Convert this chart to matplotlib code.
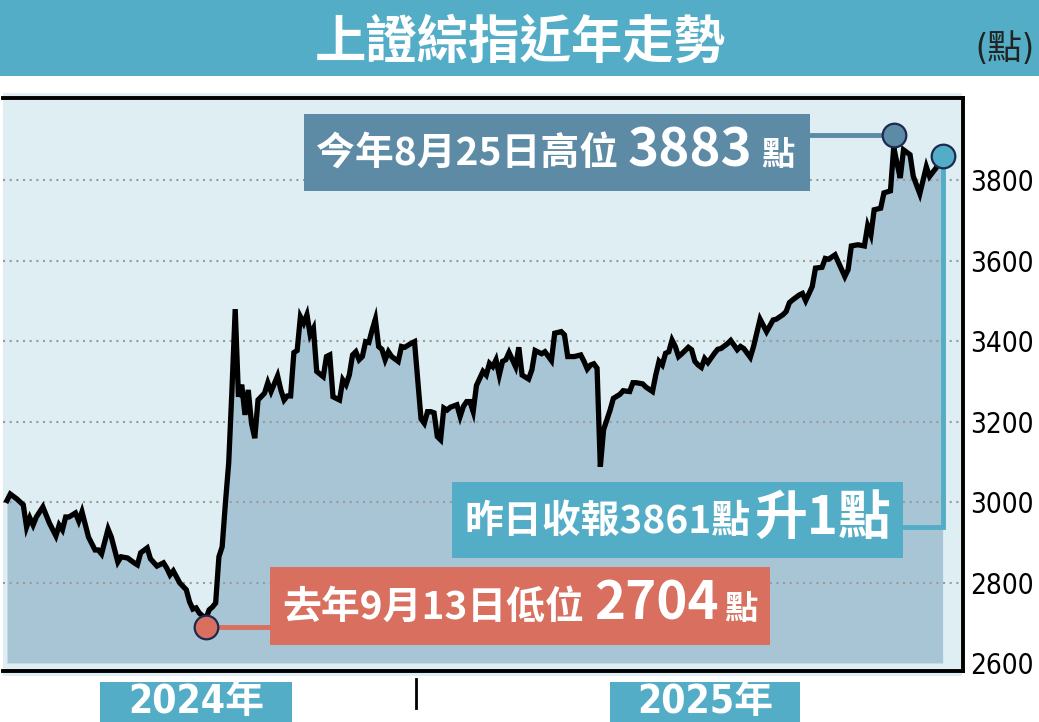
import matplotlib
matplotlib.use("Agg")
import matplotlib.pyplot as plt
import matplotlib.transforms as mtransforms
from matplotlib.patches import Rectangle
from matplotlib.lines import Line2D
from matplotlib import font_manager

plt.rcParams['font.family'] = ['Noto Sans CJK TC', 'DejaVu Sans']

# ---- data: trading-day index and SSE Composite close ----
days = [0, 1, 3, 5, 6, 7, 8, 9, 11, 13,
        15, 16, 17, 18, 19, 21, 22, 23, 25, 27,
        28, 29, 31, 32, 34, 35, 37, 39, 40, 41,
        43, 44, 46, 48, 49, 50, 51, 53, 55, 56,
        57, 58, 59, 61, 62, 63, 64, 65, 66, 67,
        68, 69, 70, 71, 72, 73, 74, 75, 76, 77,
        79, 80, 81, 83, 84, 85, 86, 87, 88, 89,
        90, 91, 92, 93, 94, 95, 97, 98, 99, 100,
        102, 103, 104, 105, 106, 107, 108, 109, 110, 111,
        112, 113, 114, 115, 116, 117, 118, 120, 121, 122,
        124, 125, 127, 128, 129, 130, 131, 132, 133, 134,
        135, 136, 138, 139, 140, 141, 142, 143, 144, 146,
        147, 148, 149, 150, 151, 152, 153, 154, 156, 157,
        158, 160, 161, 162, 164, 165, 167, 168, 170, 171,
        172, 174, 176, 177, 178, 179, 180, 181, 182, 183,
        185, 186, 188, 189, 191, 192, 193, 195, 196, 198,
        199, 200, 201, 202, 203, 204, 205, 206, 207, 209,
        210, 211, 212, 213, 214, 215, 217, 218, 219, 221,
        222, 224, 225, 226, 228, 229, 231, 233, 235, 236,
        238, 239, 240, 241, 243, 244, 245, 247, 248, 250,
        251, 252, 254, 257, 258, 259, 261, 263, 264, 265,
        266, 268, 269, 271, 272, 273, 274, 275, 277, 278,
        280, 281, 282, 283, 285, 286, 287]
closes = [3004, 3020, 3008, 2993, 2938, 2961, 2943, 2963, 2988, 2948,
          2916, 2943, 2931, 2963, 2963, 2973, 2953, 2976, 2913, 2881,
          2881, 2871, 2933, 2913, 2851, 2864, 2861, 2849, 2844, 2874,
          2886, 2859, 2841, 2849, 2836, 2819, 2829, 2799, 2782, 2752,
          2734, 2737, 2724, 2710, 2732, 2739, 2749, 2864, 2889, 2998,
          3097, 3279, 3480, 3262, 3292, 3217, 3279, 3196, 3159, 3254,
          3271, 3297, 3275, 3314, 3279, 3254, 3264, 3264, 3372, 3377,
          3461, 3445, 3466, 3416, 3432, 3325, 3312, 3362, 3366, 3262,
          3254, 3304, 3292, 3316, 3366, 3374, 3354, 3362, 3399, 3397,
          3428, 3455, 3387, 3380, 3354, 3374, 3362, 3350, 3387, 3385,
          3395, 3399, 3207, 3196, 3225, 3225, 3222, 3163, 3155, 3234,
          3229, 3236, 3242, 3213, 3238, 3250, 3250, 3225, 3290, 3325,
          3316, 3345, 3337, 3354, 3316, 3350, 3354, 3372, 3337, 3385,
          3316, 3306, 3329, 3377, 3369, 3374, 3352, 3420, 3424, 3416,
          3362, 3362, 3366, 3350, 3331, 3341, 3344, 3333, 3088, 3180,
          3229, 3258, 3268, 3277, 3275, 3297, 3297, 3294, 3286, 3275,
          3316, 3350, 3341, 3370, 3374, 3403, 3387, 3362, 3369, 3385,
          3379, 3350, 3341, 3335, 3357, 3347, 3370, 3380, 3382, 3394,
          3402, 3379, 3387, 3382, 3360, 3387, 3455, 3424, 3453, 3455,
          3466, 3474, 3496, 3503, 3515, 3519, 3501, 3536, 3582, 3584,
          3606, 3604, 3615, 3561, 3578, 3637, 3640, 3637, 3687, 3665,
          3727, 3731, 3769, 3774, 3883, 3843, 3806, 3876, 3864, 3810,
          3767, 3801, 3834, 3810, 3831, 3848, 3861]

y_ticks = [2600, 2800, 3000, 3200, 3400, 3600, 3800]
year_break = 125.5          # between last 2024 and first 2025 session
year_labels = ["2024年", "2025年"]

title = "上證綜指近年走勢"
unit = "(點)"
high_text = ["今年8月25日高位", "3883", "點"]
close_text = ["昨日收報3861點", "升1點"]
low_text = ["去年9月13日低位", "2704", "點"]

# ---- colours ----
TEAL = "#53adc6"
STEEL = "#5d8ba6"
RED = "#d86f5f"
BG = "#dfeef2"
FILL = "#a8c5d6"
NAVY = "#1b2a4e"

# narrow face for the axis numbers
names = {f.name for f in font_manager.fontManager.ttflist}
NARROW_FAM = ['Liberation Sans Narrow'] if 'Liberation Sans Narrow' in names else ['DejaVu Sans']

W, H = 1039, 722
fig = plt.figure(figsize=(W / 100, H / 100), dpi=100)


def fx(x):
    return x / W


def fy(y):
    return 1 - y / H


def fig_rect(x0, y0, x1, y1, color, z=-1):
    r = Rectangle((fx(x0), fy(y1)), (x1 - x0) / W, (y1 - y0) / H,
                  transform=fig.transFigure, facecolor=color,
                  edgecolor='none', zorder=z)
    fig.patches.append(r)
    return r


# title band + chart background
fig_rect(0, 0, W, 76, TEAL)
fig_rect(3, 93, 962, 676, BG)
fig.text(fx(520), fy(42), title, ha='center', va='center', color='white',
         fontsize=37, fontweight='bold')
fig.text(fx(1005), fy(49), unit, ha='center', va='center', color='#222222',
         fontsize=25, family=NARROW_FAM + ['Noto Sans CJK TC'],
         fontstretch='condensed')

ax = fig.add_axes([fx(3), fy(671), fx(963) - fx(3), (671 - 98) / H])
ax.patch.set_alpha(0)
ax.set_xlim(-1.23, 293.25)
ax.set_ylim(2580, 4005)

ax.fill_between(days, closes, 2600, color=FILL, lw=0, zorder=1)
ax.plot(days, closes, color='black', lw=3.8, solid_joinstyle='miter', zorder=3)

ax.set_yticks(y_ticks)
ax.yaxis.tick_right()
ax.tick_params(axis='y', length=0, pad=5)
for lab in ax.get_yticklabels():
    lab.set_fontfamily(NARROW_FAM)
    lab.set_fontstretch('condensed')
    lab.set_fontsize(20)
    lab.set_verticalalignment('center_baseline')
ax.set_xticks([])
ax.set_axisbelow('line')
ax.grid(axis='y', color='#9a9a9a', lw=1.5, ls=(0, (1, 2.2)))
ax.get_ygridlines()[0].set_visible(False)

ax.spines['left'].set_visible(False)
for s in ['top', 'right', 'bottom']:
    ax.spines[s].set_linewidth(2.8)
    ax.spines[s].set_color('black')

# year separator tick + year tags
blend = mtransforms.blended_transform_factory(ax.transData, fig.transFigure)
ax.add_line(Line2D([year_break, year_break], [fy(679), fy(708)], transform=blend,
                   color='black', lw=2, clip_on=False))
for (x0, x1), lab in zip([(100, 292), (610, 800)], year_labels):
    fig_rect(x0, 682, x1, 722, TEAL, z=2)
    fig.text(fx((x0 + x1) / 2), fy(702), lab, ha='center', va='center',
             color='white', fontsize=28, fontweight='bold',
             family=NARROW_FAM + ['Noto Sans CJK TC'], fontstretch='condensed')


# ---- callouts ----
def to_px(xv, yv):
    dx, dy = ax.transData.transform((xv, yv))
    return dx, H - dy


def box(x0, y0, x1, y1, color):
    ax.add_patch(Rectangle((fx(x0), fy(y1)), (x1 - x0) / W, (y1 - y0) / H,
                           transform=fig.transFigure, facecolor=color,
                           edgecolor='none', zorder=5, clip_on=False))


def label(x, y, s, size):
    ax.text(fx(x), fy(y), s, transform=fig.transFigure, ha='left',
            va='center', color='white', fontsize=size, fontweight='bold',
            zorder=6, clip_on=False)


def connector(xs, ys, color):
    ax.add_line(Line2D([fx(v) for v in xs], [fy(v) for v in ys],
                       transform=fig.transFigure, color=color, lw=3.5,
                       zorder=4, clip_on=False, solid_joinstyle='miter'))


def circle(xp, yp, color):
    ax.add_line(Line2D([fx(xp)], [fy(yp)], transform=fig.transFigure,
                       marker='o', ms=17, mfc=color, mec=NAVY, mew=1.6,
                       ls='none', zorder=7, clip_on=False))


i_hi = closes.index(max(closes))
i_lo = closes.index(min(closes))

hx, hy = to_px(days[i_hi], closes[i_hi])
hy -= 12
lx, ly = to_px(days[i_lo], closes[i_lo])
ly += 8
cx, cy = to_px(days[-1], closes[-1])

# high
box(304, 114, 810, 191, STEEL)
connector([810, hx], [hy, hy], STEEL)
circle(hx, hy, STEEL)
label(316, 154, high_text[0], 28)
label(628, 151, high_text[1], 38)
label(761, 156, high_text[2], 24)

# yesterday close
box(452, 482, 903, 558, TEAL)
connector([903, cx, cx], [527, 527, cy], TEAL)
circle(cx, cy, TEAL)
label(464, 521, close_text[0], 28)
label(754, 518, close_text[1], 38)

# low
box(270, 567, 770, 645, RED)
connector([lx, 270], [ly, ly], RED)
circle(lx, ly, RED)
label(282, 607, low_text[0], 28)
label(594, 604, low_text[1], 38)
label(724, 609, low_text[2], 24)

fig.savefig("out.png", dpi=100)
